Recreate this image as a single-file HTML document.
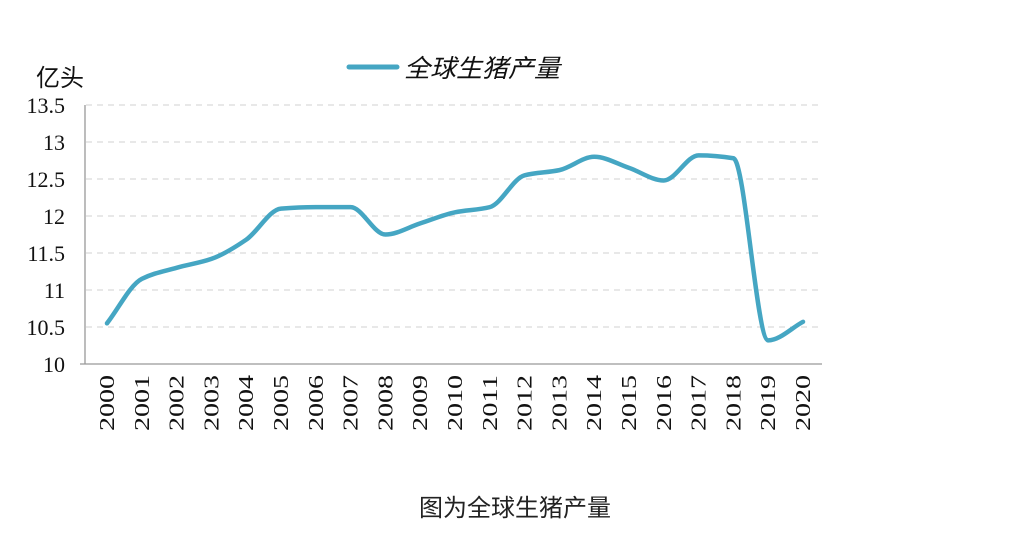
<!DOCTYPE html>
<html><head><meta charset="utf-8"><style>
html,body{margin:0;padding:0;background:#fff;}
svg{display:block;}
</style></head><body>
<svg id="chart" width="1014" height="538" viewBox="0 0 1014 538">
<g id="grid"></g>
<g id="yaxis"></g>
<g id="xaxis"></g>
<path id="line" fill="none" stroke="#45a6c3" stroke-width="4.5" stroke-linecap="round" stroke-linejoin="round"/>
<text x="36" y="86" font-family="'Liberation Sans','Noto Sans CJK SC',sans-serif" font-size="24" fill="#111">亿头</text>
<g>
<line x1="349" y1="67" x2="397" y2="67" stroke="#45a6c3" stroke-width="5" stroke-linecap="round"/>
<text x="404" y="77" font-family="'Liberation Sans','Noto Sans CJK SC',sans-serif" font-size="25" font-style="italic" fill="#111" textLength="156" lengthAdjust="spacingAndGlyphs">全球生猪产量</text>
</g>
<text x="515" y="516" text-anchor="middle" font-family="'Liberation Sans','Noto Sans CJK SC',sans-serif" font-size="24" fill="#222">图为全球生猪产量</text>
</svg>
<script>
const years = ["2000","2001","2002","2003","2004","2005","2006","2007","2008","2009","2010","2011","2012","2013","2014","2015","2016","2017","2018","2019","2020"];
const values = [10.55,11.15,11.3,11.42,11.68,12.1,12.12,12.12,11.75,11.9,12.05,12.12,12.55,12.62,12.8,12.65,12.48,12.82,12.78,10.32,10.57];
const yTicks = [10,10.5,11,11.5,12,12.5,13,13.5];
const yTickLabels = ["10","10.5","11","11.5","12","12.5","13","13.5"];
const NS="http://www.w3.org/2000/svg";
const xs=i=>107+i*(803-107)/(years.length-1);
const ys=v=>364-(v-10)*74;
const grid=document.getElementById('grid'),ya=document.getElementById('yaxis'),xa=document.getElementById('xaxis');
yTicks.forEach((t,i)=>{
  if(t>10){const l=document.createElementNS(NS,'line');
  
  
  l.setAttribute('x1',86);l.setAttribute('x2',822);l.setAttribute('y1',ys(t));l.setAttribute('y2',ys(t));
  l.setAttribute('stroke','#d0d0d0');l.setAttribute('stroke-dasharray','6,5');grid.appendChild(l);}
  const tx=document.createElementNS(NS,'text');
  
  
  tx.setAttribute('x',65);tx.setAttribute('y',ys(t)+8);tx.setAttribute('text-anchor','end');
  tx.setAttribute('font-family','Liberation Serif,serif');tx.setAttribute('font-size','22');tx.setAttribute('fill','#111');
  tx.textContent=yTickLabels[i];ya.appendChild(tx);
});
const ax=document.createElementNS(NS,'path');


ax.setAttribute('d','M85 105V364M80 364H822');ax.setAttribute('stroke','#999');ax.setAttribute('fill','none');ax.setAttribute('stroke-width','1.3');
ya.appendChild(ax);
years.forEach((y,i)=>{
  const tx=document.createElementNS(NS,'text');
  
  
  const x=xs(i)+7,yy=375;
  tx.setAttribute('transform','translate('+x+','+yy+') rotate(-90)');
  tx.setAttribute('text-anchor','end');
  tx.setAttribute('textLength','56');
  tx.setAttribute('lengthAdjust','spacingAndGlyphs');
  tx.setAttribute('font-family','Liberation Serif,serif');tx.setAttribute('font-size','21');tx.setAttribute('fill','#111');
  tx.textContent=y;xa.appendChild(tx);
});
const pts=values.map((v,i)=>[xs(i),ys(v)]);
const n=pts.length,dx=[],sl=[];
for(let i=0;i<n-1;i++){dx.push(pts[i+1][0]-pts[i][0]);sl.push((pts[i+1][1]-pts[i][1])/dx[i]);}
const m=[sl[0]];
for(let i=1;i<n-1;i++){ if(sl[i-1]*sl[i]<=0) m.push(0); else { const w1=2*dx[i]+dx[i-1],w2=dx[i]+2*dx[i-1]; m.push((w1+w2)/(w1/sl[i-1]+w2/sl[i])); } }
m.push(sl[n-2]);
let d='M'+pts[0][0]+' '+pts[0][1];
for(let i=0;i<n-1;i++){
  const h=dx[i]/3;
  d+=' C'+(pts[i][0]+h)+' '+(pts[i][1]+m[i]*h)+' '+(pts[i+1][0]-h)+' '+(pts[i+1][1]-m[i+1]*h)+' '+pts[i+1][0]+' '+pts[i+1][1];
}
document.getElementById('line').setAttribute('d',d);
</script>
</body></html>
